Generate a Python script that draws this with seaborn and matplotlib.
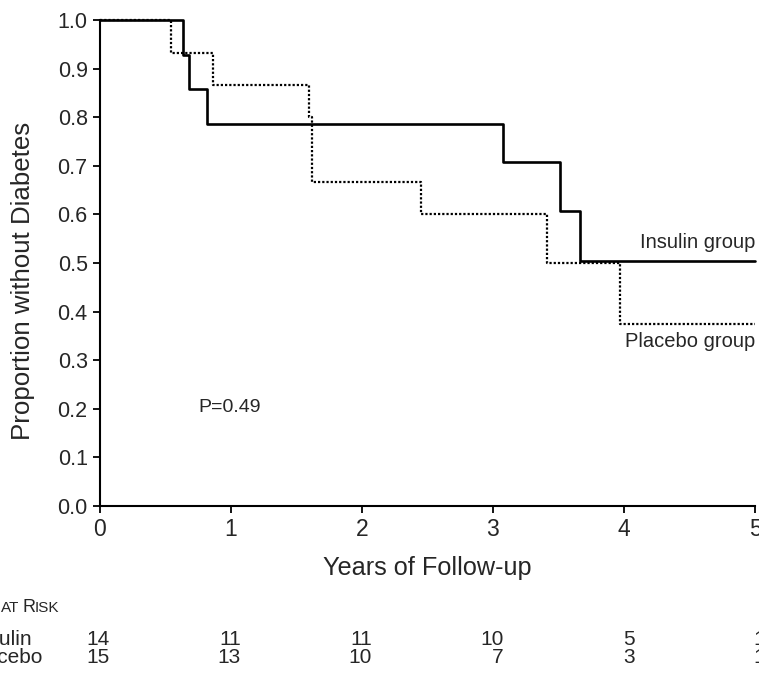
import pandas as pd
import matplotlib.pyplot as plt
import matplotlib.transforms as mtransforms
import seaborn as sns

# Kaplan-Meier step curves
insulin_years = [0, 0.64, 0.683, 0.818, 3.078, 3.515, 3.668, 5.0]
insulin_prop = [1.0, 0.929, 0.857, 0.786, 0.707, 0.606, 0.505, 0.505]
placebo_years = [0, 0.546, 0.869, 1.60, 1.624, 2.454, 3.413, 3.968, 5.0]
placebo_prop = [1.0, 0.933, 0.867, 0.80, 0.667, 0.60, 0.50, 0.375, 0.375]

# numbers at risk under the axis
risk_years = [0, 1, 2, 3, 4, 5]
insulin_risk = [14, 11, 11, 10, 5, 1]
placebo_risk = [15, 13, 10, 7, 3, 1]

sns.set_style("ticks")
plt.rcParams["font.family"] = ["Liberation Sans", "DejaVu Sans"]

W, H = 759, 675
fig = plt.figure(figsize=(W / 100, H / 100), dpi=100)
ax = fig.add_axes([99.5 / W, 169 / H, 655.5 / W, 486 / H])

ins = pd.DataFrame({"years": insulin_years, "prop": insulin_prop})
pla = pd.DataFrame({"years": placebo_years, "prop": placebo_prop})

sns.lineplot(data=pla, x="years", y="prop", ax=ax, estimator=None, sort=False,
             drawstyle="steps-post", color="black", linewidth=1.6,
             linestyle=(0, (1, 0.9)), clip_on=False)
sns.lineplot(data=ins, x="years", y="prop", ax=ax, estimator=None, sort=False,
             drawstyle="steps-post", color="black", linewidth=1.9,
             clip_on=False)

ax.set_xlim(0, 5)
ax.set_ylim(0, 1)
ax.set_xticks(risk_years)
ax.set_yticks([i / 10 for i in range(11)])
ax.set_yticklabels([f"{i / 10:.1f}" for i in range(11)], fontsize=15.5)
ax.set_xticklabels([str(v) for v in risk_years], fontsize=16.5,
                   family=["Liberation Sans Narrow", "Liberation Sans"])
ax.tick_params(axis="both", direction="out", length=5, width=1.3, color="black", pad=3.5)
for s in ["top", "right"]:
    ax.spines[s].set_visible(False)
for s in ["left", "bottom"]:
    ax.spines[s].set_linewidth(1.5)
    ax.spines[s].set_color("black")

ax.set_xlabel("Years of Follow-up", fontsize=18.2, labelpad=11)
ax.set_ylabel("Proportion without Diabetes", fontsize=18.6)
ax.yaxis.set_label_coords(-0.099, 0.463)

ax.text(5.0, 0.531, "Insulin group", ha="right", va="baseline", fontsize=14.5)
ax.text(5.0, 0.327, "Placebo group", ha="right", va="baseline", fontsize=14.5)
ax.text(0.752, 0.193, "P=0.49", ha="left", va="baseline", fontsize=14)

# at-risk table
narrow = ["Liberation Sans Narrow", "Liberation Sans"]
fig.text(-5 / W, (H - 612) / H, "No.", ha="right", va="baseline", fontsize=12, family=narrow)
fig.text(1 / W, (H - 612) / H, "AT", ha="left", va="baseline", fontsize=11, family=narrow)
fig.text(22 / W, (H - 612) / H, "R", ha="left", va="baseline", fontsize=13, family=narrow)
fig.text(35 / W, (H - 612) / H, "ISK", ha="left", va="baseline", fontsize=11, family=narrow)

fig.text(-29 / W, (H - 645) / H, "Insulin", ha="left", va="baseline", fontsize=15, family=narrow)
fig.text(-33 / W, (H - 663) / H, "Placebo", ha="left", va="baseline", fontsize=15, family=narrow)

trans = mtransforms.blended_transform_factory(ax.transData, fig.transFigure)
for yr, a, b in zip(risk_years, insulin_risk, placebo_risk):
    ax.text(yr + 0.08, (H - 645) / H, str(a), transform=trans, ha="right",
            va="baseline", fontsize=15, family=narrow, clip_on=False)
    ax.text(yr + 0.08, (H - 663) / H, str(b), transform=trans, ha="right",
            va="baseline", fontsize=15, family=narrow, clip_on=False)

fig.savefig("out.png", dpi=100)
